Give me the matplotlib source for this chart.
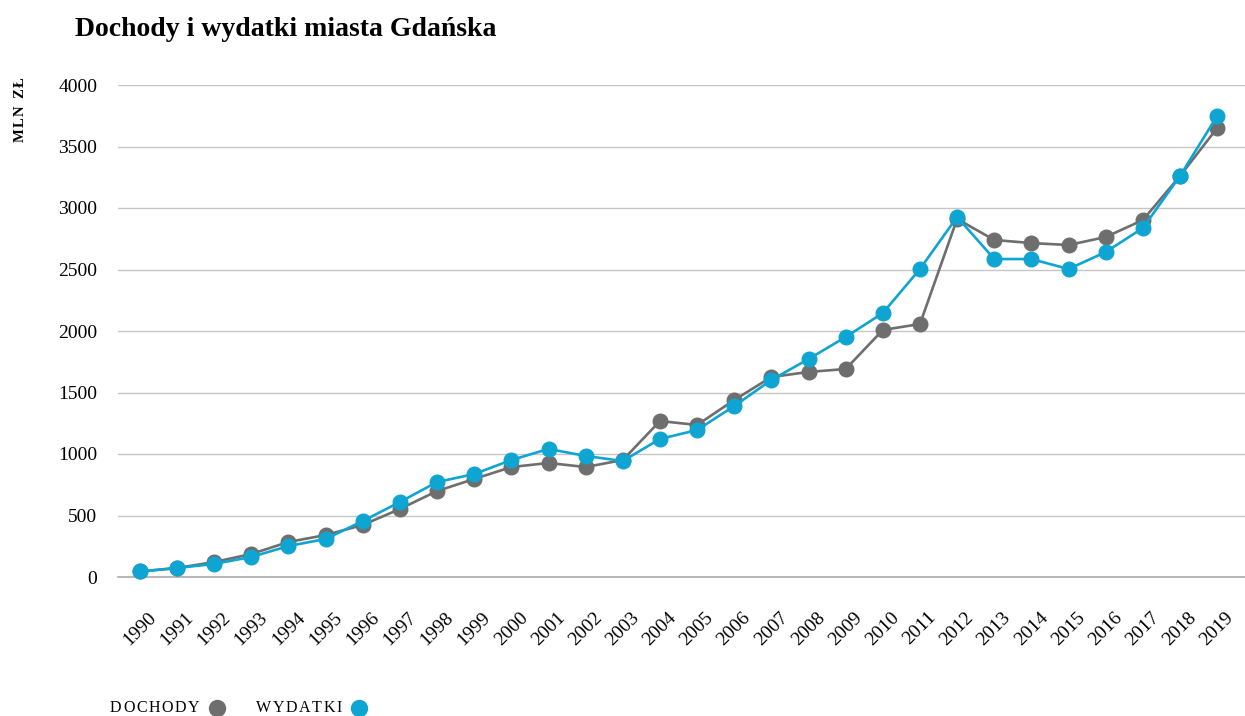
import matplotlib
matplotlib.use("Agg")
import matplotlib.pyplot as plt
from matplotlib.lines import Line2D

plt.rcParams['font.family'] = ['Liberation Serif', 'DejaVu Serif']

years = list(range(1990, 2020))
dochody = [45, 73, 122, 187, 285, 341, 423, 553, 699, 797, 894, 927, 894, 951,
           1268, 1236, 1439, 1626, 1667, 1691, 2008, 2057, 2911, 2740, 2715, 2699,
           2764, 2902, 3260, 3650]
wydatki = [45, 73, 106, 163, 252, 309, 455, 610, 772, 837, 951, 1041, 984, 943,
           1122, 1195, 1390, 1602, 1772, 1951, 2146, 2504, 2927, 2585, 2585, 2504,
           2642, 2837, 3260, 3748]
yticks = [0, 500, 1000, 1500, 2000, 2500, 3000, 3500, 4000]
series_names = ['DOCHODY', 'WYDATKI']

GRAY = '#6e6e6e'
BLUE = '#0fa5d2'
GRID = '#c6c6c6'
W, H = 1245, 716

fig = plt.figure(figsize=(W / 100, H / 100), dpi=100)
ax = fig.add_axes([118 / W, 1 - 577 / H, 1 - 118 / W, (577 - 85) / H])

ax.plot(years, dochody, color=GRAY, lw=1.9, marker='o', ms=10.5, clip_on=False, zorder=3)
ax.plot(years, wydatki, color=BLUE, lw=1.9, marker='o', ms=10.5, clip_on=False, zorder=4)

ax.set_ylim(0, 4000)
ax.set_xlim(1989.41, 2019.75)
ax.set_yticks(yticks)
ax.set_yticklabels([str(v) for v in yticks], fontsize=14, fontweight='medium')
ax.set_xticks(years)
ax.set_xticklabels([str(y) for y in years], fontsize=14, rotation=45, ha='center', va='top')
ax.tick_params(axis='y', length=0, pad=15)
ax.tick_params(axis='x', length=0, pad=23)
ax.yaxis.grid(True, color=GRID, lw=1.0)
ax.axhline(0, color='#ababab', lw=1.2, clip_on=False, zorder=1)
ax.set_axisbelow(True)
for s in ax.spines.values():
    s.set_visible(False)

fig.text(75 / W, 1 - 30 / H, 'Dochody i wydatki miasta Gdańska', fontsize=20,
         fontweight='bold', ha='left', va='center')

renderer = fig.canvas.get_renderer()


def spaced_text(x_px, y_px, s, size, spacing_px, vertical=False, weight='normal'):
    """Draw text letter by letter with extra tracking; returns end position in px."""
    pos = x_px if not vertical else y_px
    for ch in s:
        if vertical:
            t = fig.text(x_px / W, 1 - pos / H, ch, fontsize=size, rotation=90,
                         ha='center', va='bottom', fontweight=weight)
            ext = t.get_window_extent(renderer)
            pos -= ext.height + spacing_px
        else:
            t = fig.text(pos / W, 1 - y_px / H, ch, fontsize=size, ha='left',
                         va='center', fontweight=weight)
            ext = t.get_window_extent(renderer)
            pos += ext.width + spacing_px
    return pos


# vertical unit label
spaced_text(20, 142, 'MLN ZŁ', 10.5, 1.5, vertical=True, weight='bold')

# legend: label followed by its marker
colors = [GRAY, BLUE]
starts = [110, 256]
for name, col, x0 in zip(series_names, colors, starts):
    x_end = spaced_text(x0, 708, name, 11.5, 1.6)
    fig.add_artist(Line2D([(x_end + 16) / W], [1 - 708 / H], marker='o', ms=11.5,
                          color=col, ls='none', transform=fig.transFigure))

fig.savefig('out.png', dpi=100)
